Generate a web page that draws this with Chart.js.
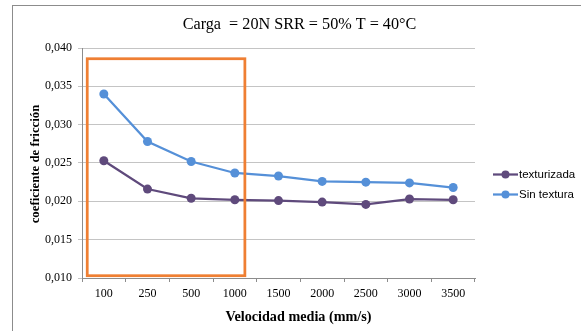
<!DOCTYPE html>
<html>
<head>
<meta charset="utf-8">
<script src="https://cdn.jsdelivr.net/npm/chart.js@4/dist/chart.umd.min.js"></script>
<style>
  html, body { margin: 0; padding: 0; background: #ffffff; overflow: hidden; width: 581px; height: 331px; }
  #frame { position: absolute; left: 12px; top: 5px; width: 620px; height: 400px; border: 1px solid #8c8c8c; box-sizing: border-box; }
  #wrap { position: absolute; left: 0; top: 0; width: 581px; height: 331px; }
</style>
</head>
<body>
<div id="frame"></div>
<div id="wrap"><canvas id="c" width="581" height="331"></canvas></div>
<script>
// ---- data ----
const categories = ['100', '250', '500', '1000', '1500', '2000', '2500', '3000', '3500'];
const texturizada = [0.0253, 0.0216, 0.0204, 0.0202, 0.0201, 0.0199, 0.0196, 0.0203, 0.0202];
const sinTextura = [0.0340, 0.0278, 0.0252, 0.0237, 0.0233, 0.0226, 0.0225, 0.0224, 0.0218];
const seriesNames = ['texturizada', 'Sin textura'];
const chartTitle = 'Carga  = 20N SRR = 50% T = 40°C';
const xTitle = 'Velocidad media (mm/s)';
const yTitle = 'coeficiente de fricción';
// highlighted region (in data units: category index and y value)
const highlightX = [-0.38, 3.23];
const highlightY = [0.0103, 0.0386];

const SERIF = '"Liberation Serif", "Times New Roman", serif';
const SANS = '"Liberation Sans", Arial, sans-serif';
const colors = ['#5f4a7c', '#5590d8'];

const overlay = {
  id: 'overlay',
  afterDatasetsDraw(chart) {
    const ctx = chart.ctx;
    const xs = chart.scales.x, ys = chart.scales.y;
    const x1 = xs.getPixelForValue(highlightX[0]);
    const x2 = xs.getPixelForValue(highlightX[1]);
    const y1 = ys.getPixelForValue(highlightY[1]);
    const y2 = ys.getPixelForValue(highlightY[0]);
    ctx.save();
    ctx.strokeStyle = '#ef7f33';
    ctx.lineWidth = 2.75;
    ctx.strokeRect(x1, y1, x2 - x1, y2 - y1);
    ctx.restore();
  },
  afterDraw(chart) {
    const ctx = chart.ctx;
    const area = chart.chartArea;
    ctx.save();
    ctx.fillStyle = '#000';
    ctx.textAlign = 'center';
    ctx.textBaseline = 'middle';
    // chart title
    ctx.font = '16.2px ' + SERIF;
    ctx.fillText(chartTitle, 299.5, 25);
    // x-axis title
    ctx.font = 'bold 14.2px ' + SERIF;
    ctx.fillText(xTitle, 298.5, 317);
    // y-axis title
    ctx.save();
    ctx.translate(36, (area.top + area.bottom) / 2 + 1);
    ctx.rotate(-Math.PI / 2);
    ctx.font = 'bold 12.8px ' + SERIF;
    ctx.fillText(yTitle, 0, 0);
    ctx.restore();
    // legend
    ctx.textAlign = 'left';
    ctx.font = '11.5px ' + SANS;
    chart.data.datasets.forEach((ds, i) => {
      const ly = 174.5 + i * 20;
      const lx = area.right + 18;
      ctx.strokeStyle = ds.borderColor;
      ctx.lineWidth = 2.25;
      ctx.beginPath();
      ctx.moveTo(lx, ly);
      ctx.lineTo(lx + 25, ly);
      ctx.stroke();
      ctx.fillStyle = ds.backgroundColor;
      ctx.beginPath();
      ctx.arc(lx + 12.5, ly, 4, 0, Math.PI * 2);
      ctx.fill();
      ctx.fillStyle = '#000';
      ctx.fillText(ds.label, lx + 26, ly + 0.5);
    });
    ctx.restore();
  }
};

new Chart(document.getElementById('c'), {
  type: 'line',
  data: {
    labels: categories,
    datasets: [
      {
        label: seriesNames[0], data: texturizada,
        borderColor: colors[0], backgroundColor: colors[0],
        borderWidth: 2.25, pointRadius: 4.5, pointBorderWidth: 0,
        pointBackgroundColor: colors[0], tension: 0
      },
      {
        label: seriesNames[1], data: sinTextura,
        borderColor: colors[1], backgroundColor: colors[1],
        borderWidth: 2.25, pointRadius: 4.5, pointBorderWidth: 0,
        pointBackgroundColor: colors[1], tension: 0
      }
    ]
  },
  options: {
    responsive: false,
    animation: false,
    devicePixelRatio: 1,
    layout: { padding: { left: 0, right: 106, top: 48, bottom: 0 } },
    plugins: { legend: { display: false }, title: { display: false }, tooltip: { enabled: false } },
    scales: {
      x: {
        offset: true,
        grid: { offset: true, drawOnChartArea: false, drawTicks: true, tickLength: 4, color: '#8c8c8c' },
        border: { color: '#8c8c8c', width: 1 },
        ticks: { color: '#000', font: { family: SERIF, size: 12 }, padding: 5, maxRotation: 0, autoSkip: false },
        afterFit(scale) { scale.height = 53; }
      },
      y: {
        min: 0.010, max: 0.040,
        grid: { color: '#c4c4c4', tickLength: 4, drawTicks: true },
        border: { color: '#8c8c8c', width: 1 },
        ticks: {
          stepSize: 0.005, color: '#000', padding: 6,
          font: { family: SERIF, size: 12 },
          callback: (v) => v.toFixed(3).replace('.', ',')
        },
        afterFit(scale) { scale.width = 82; }
      }
    }
  },
  plugins: [overlay]
});
</script>
</body>
</html>
